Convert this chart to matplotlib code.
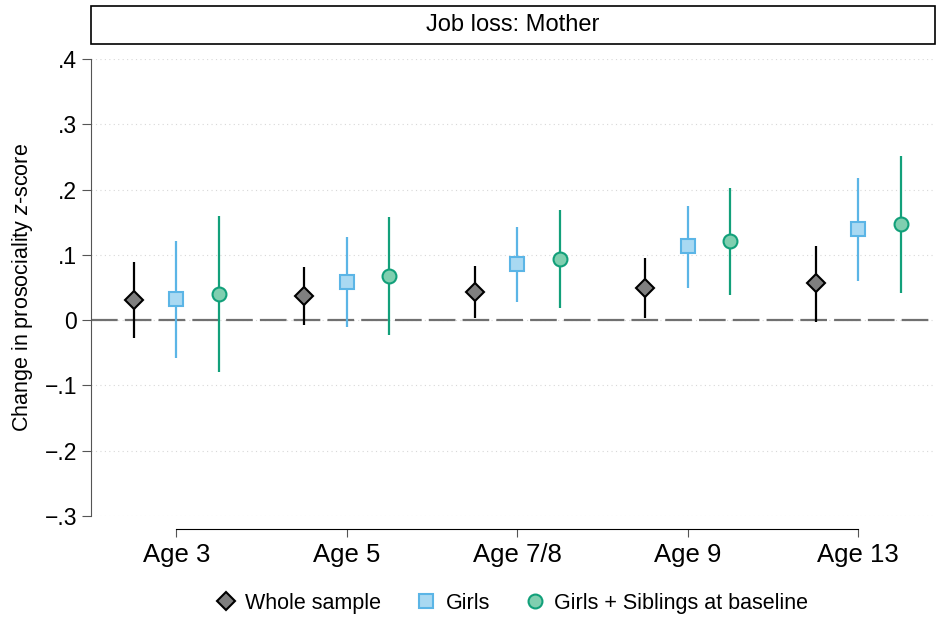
import matplotlib
matplotlib.use("Agg")
import matplotlib.pyplot as plt
from matplotlib.lines import Line2D
from matplotlib.patches import Rectangle

plt.rcParams['font.family'] = ['Liberation Sans', 'DejaVu Sans']
plt.rcParams['mathtext.fontset'] = 'custom'
plt.rcParams['mathtext.it'] = 'Liberation Sans:italic'
plt.rcParams['mathtext.rm'] = 'Liberation Sans'

ages = ['Age 3', 'Age 5', 'Age 7/8', 'Age 9', 'Age 13']

# point estimates and 95% CIs per sample
whole = [0.031, 0.037, 0.043, 0.049, 0.057]
whole_lo = [-0.028, -0.008, 0.003, 0.003, -0.003]
whole_hi = [0.089, 0.081, 0.083, 0.095, 0.113]

girls = [0.032, 0.058, 0.086, 0.113, 0.139]
girls_lo = [-0.058, -0.011, 0.028, 0.049, 0.060]
girls_hi = [0.121, 0.127, 0.143, 0.175, 0.217]

sibs = [0.040, 0.067, 0.093, 0.121, 0.147]
sibs_lo = [-0.080, -0.023, 0.018, 0.038, 0.041]
sibs_hi = [0.159, 0.158, 0.168, 0.202, 0.251]

yticks = [0.4, 0.3, 0.2, 0.1, 0, -0.1, -0.2, -0.3]
ytick_labels = ['.4', '.3', '.2', '.1', '0', '\u2212.1', '\u2212.2', '\u2212.3']

fig = plt.figure(figsize=(9.37, 6.17), dpi=100)
ax = fig.add_axes([0.0971, 0.1637, 0.9008, 0.7407])

pos = list(range(1, len(ages) + 1))
series = [
    (whole, whole_lo, whole_hi, -0.25, 'D', '#7f7f7f', 'black', 'black', 9.5, 'Whole sample'),
    (girls, girls_lo, girls_hi, 0.0, 's', '#a9d9f2', '#5bb5e6', '#5bb5e6', 9.5, 'Girls'),
    (sibs, sibs_lo, sibs_hi, 0.25, 'o', '#80cfb0', '#12a07a', '#12a07a', 10, 'Girls + Siblings at baseline'),
]

handles = []
for est, lo, hi, off, mk, fc, ec, lc, ms, lab in series:
    xs = [p + off for p in pos]
    ax.vlines(xs, lo, hi, color=lc, lw=1.6, zorder=3)
    ax.plot(xs, est, linestyle='none', marker=mk, markersize=ms,
            markerfacecolor=fc, markeredgecolor=ec, markeredgewidth=1.5, zorder=4)
    handles.append(Line2D([], [], linestyle='none', marker=mk, markersize=ms,
                          markerfacecolor=fc, markeredgecolor=ec,
                          markeredgewidth=1.5, label=lab))

ax.axhline(0, color='#707070', lw=1.6, dashes=(12, 3.2), zorder=2)

for y in yticks:
    ax.axhline(y, color='#d8d8d8', lw=0.8, linestyle=(0, (1, 3)), zorder=1)

ax.spines['top'].set_visible(False)
ax.spines['right'].set_visible(False)
ax.spines['bottom'].set_position(('outward', 9.5))
ax.spines['left'].set_color('#555555')

ax.set_xlim(0.5, 5.45)
ax.set_ylim(-0.3, 0.4)
ax.set_yticks(yticks)
ax.set_yticklabels(ytick_labels)
ax.set_xticks(pos)
ax.set_xticklabels(ages)
ax.spines['bottom'].set_bounds(1, 5)
ax.tick_params(axis='y', length=6.5, color='#555555', pad=3.5, labelsize=16.5)
ax.tick_params(axis='x', length=6, color='#555555', pad=4, labelsize=18.5)

ax.set_ylabel('Change in prosociality $\\it{z}$-score', fontsize=15.5, labelpad=7)

# header strip
strip = Rectangle((0, 1.0328), 1.0, 0.0832, transform=ax.transAxes,
                  facecolor='white', edgecolor='black', lw=1.2, clip_on=False)
ax.add_patch(strip)
ax.text(0.5, 1.0328 + 0.0416, 'Job loss: Mother', transform=ax.transAxes,
        ha='center', va='center', fontsize=17)

fig.legend(handles=handles, loc='center', bbox_to_anchor=(0.546, 0.022),
           ncol=3, frameon=False, fontsize=15.5, handlelength=1.0,
           handletextpad=0.4, columnspacing=1.6, borderaxespad=0)

fig.savefig('out.png', dpi=100)
